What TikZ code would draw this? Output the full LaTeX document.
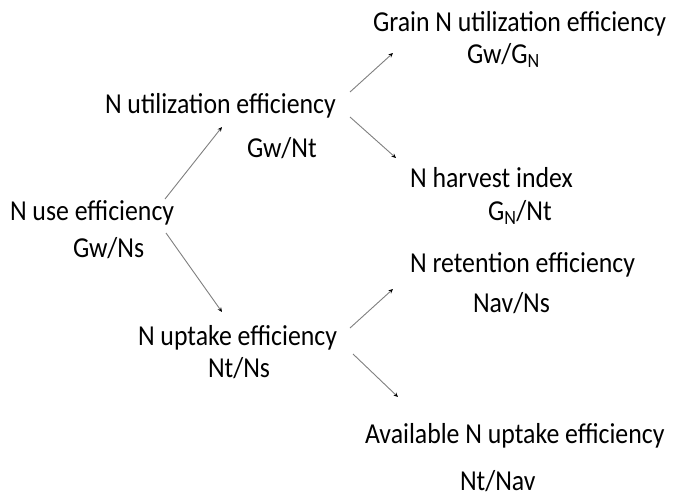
\documentclass[tikz,border=0pt]{standalone}
\usepackage{fontspec}
\setmainfont{Carlito}
\usetikzlibrary{arrows.meta}
\newcommand{\tallt}[1]{\scalebox{1}[1.12]{#1}}
\begin{document}
\begin{tikzpicture}[x=1pt,y=-1pt,
  lbl/.style={anchor=base west,inner sep=0pt,outer sep=0pt,font=\fontsize{25.8}{30}\selectfont,text=black},
  conn/.style={draw=black!50,line width=0.9pt,-{Stealth[length=4.5pt,width=4pt,black]}}]
\useasboundingbox[fill=white] (0,0) rectangle (675,498);
% texts
\node[lbl] (grain) at (373,31) {\tallt{Grain N utilization efficiency}};
\node[lbl] (grainf) at (467,63) {\tallt{Gw/G\textsubscript{N}}};
\node[lbl] (util) at (105,113) {\tallt{N utilization efficiency}};
\node[lbl] (utilf) at (247,157) {\tallt{Gw/Nt}};
\node[lbl] (use) at (10,220) {\tallt{N use efficiency}};
\node[lbl] (usef) at (73,257) {\tallt{Gw/Ns}};
\node[lbl] (hi) at (410,187) {\tallt{N harvest index}};
\node[lbl] (hif) at (488,220) {\tallt{G\textsubscript{N}/Nt}};
\node[lbl] (ret) at (410,272) {\tallt{N retention efficiency}};
\node[lbl] (retf) at (473,312) {\tallt{Nav/Ns}};
\node[lbl] (upt) at (138,345) {\tallt{N uptake efficiency}};
\node[lbl] (uptf) at (208,377) {\tallt{Nt/Ns}};
\node[lbl] (avail) at (365,443) {\tallt{Available N uptake efficiency}};
\node[lbl] (availf) at (460,490) {\tallt{Nt/Nav}};
% connector ends
\coordinate (useA) at (165,199);
\coordinate (utilIn) at (222,127);
\coordinate (useB) at (166,233);
\coordinate (uptIn) at (222,312);
\coordinate (utilA) at (350,92);
\coordinate (grainIn) at (393,53);
\coordinate (utilB) at (350,117);
\coordinate (hiIn) at (396,158);
\coordinate (uptA) at (350,328);
\coordinate (retIn) at (393,289);
\coordinate (uptB) at (353,354);
\coordinate (availIn) at (398,397);
% connectors
\draw[conn] (useA) -- (utilIn);
\draw[conn] (useB) -- (uptIn);
\draw[conn] (utilA) -- (grainIn);
\draw[conn] (utilB) -- (hiIn);
\draw[conn] (uptA) -- (retIn);
\draw[conn] (uptB) -- (availIn);
\end{tikzpicture}
\end{document}
